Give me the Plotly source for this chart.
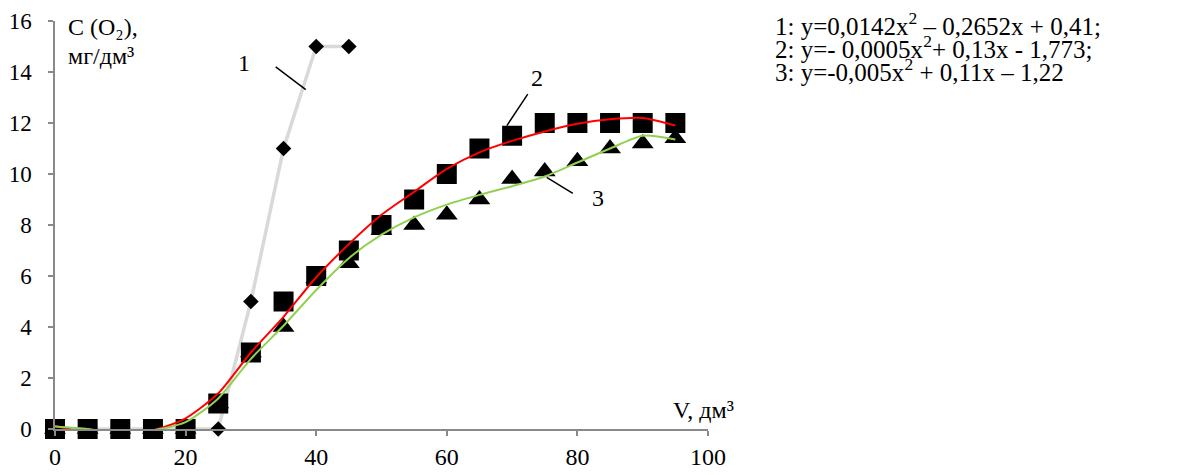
import plotly.graph_objects as go

# ---- data ----
x_vals = [0, 5, 10, 15, 20, 25, 30, 35, 40, 45, 50, 55, 60, 65, 70, 75, 80, 85, 90, 95]

s1_x = [0, 5, 10, 15, 20, 25, 30, 35, 40, 45]
s1_y = [0, 0, 0, 0, 0, 0, 5, 11, 15, 15]

s2_y = [0, 0, 0, 0, 0, 1, 3, 5, 6, 7, 8, 9, 10, 11, 11.5, 12, 12, 12, 12, 12]
s3_y = [0, 0, 0, 0, 0, 1, 3, 4, 5.9, 6.5, 7.8, 8, 8.4, 9, 9.8, 10.1, 10.5, 11, 11.2, 11.4]

fit2_y = [0.12, -0.15, -0.3, -0.05, 0.42, 1.4, 3.0, 4.4, 5.95, 7.25, 8.4, 9.3, 10.2,
          10.85, 11.3, 11.67, 11.97, 12.15, 12.2, 11.9]
fit3_y = [0.1, 0.0, -0.2, -0.05, 0.27, 1.2, 2.75, 4.05, 5.45, 6.7, 7.62, 8.3, 8.8,
          9.18, 9.52, 9.9, 10.45, 11.0, 11.5, 11.35]

eq_lines = [
    "1: y=0,0142x<sup>2</sup> – 0,2652x + 0,41;",
    "2: y=- 0,0005x<sup>2</sup>+ 0,13x - 1,773;",
    "3: y=-0,005x<sup>2</sup> + 0,11x – 1,22",
]

FONT = "Liberation Serif, Times New Roman, serif"
AX = "#898989"

# the page body adds an 8px offset; layout below is expressed in page pixels
OFF = 8
W, H = 1196 - OFF, 475 - OFF
L, R, T, B = 55 - OFF, 708 - OFF, 21 - OFF, 429 - OFF


def px(x):
    return (x - OFF - L) / (R - L)


def py(y):
    return (B - (y - OFF)) / (B - T)


fig = go.Figure()

fig.add_trace(go.Scatter(
    x=s1_x, y=s1_y, mode="lines+markers",
    line=dict(color="#d9d9d9", width=3.5),
    marker=dict(symbol="diamond", size=12, color="black"),
    cliponaxis=False, showlegend=False))

fig.add_trace(go.Scatter(
    x=x_vals, y=s2_y, mode="markers",
    marker=dict(symbol="square", size=20, color="black"),
    cliponaxis=False, showlegend=False))

fig.add_trace(go.Scatter(
    x=x_vals, y=s3_y, mode="markers",
    marker=dict(symbol="triangle-up", size=19, color="black"),
    cliponaxis=False, showlegend=False))

fig.add_trace(go.Scatter(
    x=x_vals, y=fit2_y, mode="lines",
    line=dict(color="#ff0000", width=2, shape="spline", smoothing=0.7),
    showlegend=False))

fig.add_trace(go.Scatter(
    x=x_vals, y=fit3_y, mode="lines",
    line=dict(color="#92d050", width=2, shape="spline", smoothing=0.7),
    showlegend=False))

# leader lines
for (x0, y0, x1, y1) in [(33.8, 14.2, 38.4, 13.31), (69.2, 11.9, 72.4, 13.13), (75.3, 9.87, 79.3, 9.24)]:
    fig.add_shape(type="line", x0=x0, y0=y0, x1=x1, y1=y1, xref="x", yref="y",
                  line=dict(color="black", width=1.5))

for txt, x, y in [("1", 28.9, 14.37), ("2", 73.8, 13.75), ("3", 83.2, 9.04)]:
    fig.add_annotation(x=x, y=y, xref="x", yref="y", text=txt, showarrow=False,
                       font=dict(family=FONT, size=24, color="black"))

fig.add_annotation(x=px(66), y=py(27), xref="paper", yref="paper", text="C (O₂),",
                   showarrow=False, xanchor="left", yanchor="middle",
                   font=dict(family=FONT, size=24, color="black"))
fig.add_annotation(x=px(66), y=py(56), xref="paper", yref="paper", text="мг/дм³",
                   showarrow=False, xanchor="left", yanchor="middle",
                   font=dict(family=FONT, size=24, color="black"))
fig.add_annotation(x=px(736), y=py(410), xref="paper", yref="paper", text="V, дм³",
                   showarrow=False, xanchor="right", yanchor="middle",
                   font=dict(family=FONT, size=24, color="black"))

for i, line in enumerate(eq_lines):
    fig.add_annotation(x=px(773), y=py([24, 47, 70][i]), xref="paper", yref="paper",
                       text=line, showarrow=False, xanchor="left", yanchor="middle",
                       font=dict(family=FONT, size=25, color="black"))

fig.update_layout(
    width=W, height=H,
    margin=dict(l=L, r=W - R, t=T, b=H - B, pad=0),
    paper_bgcolor="white", plot_bgcolor="white",
    font=dict(family=FONT, size=24, color="black"),
    xaxis=dict(range=[0, 100], tickvals=[0, 20, 40, 60, 80, 100], showgrid=False,
               zeroline=False, showline=True, linecolor=AX, linewidth=1.5,
               ticks="outside", ticklen=5, tickcolor=AX, tickwidth=1.5,
               automargin=False,
               tickfont=dict(family=FONT, size=24, color="black")),
    yaxis=dict(range=[0, 16], tickvals=list(range(0, 17, 2)), showgrid=False,
               zeroline=False, showline=True, linecolor=AX, linewidth=1.5,
               ticks="outside", ticklen=5, tickcolor=AX, tickwidth=1.5,
               automargin=False, ticklabelstandoff=12,
               tickfont=dict(family=FONT, size=23, color="black")),
)

fig.write_html("out.html")
